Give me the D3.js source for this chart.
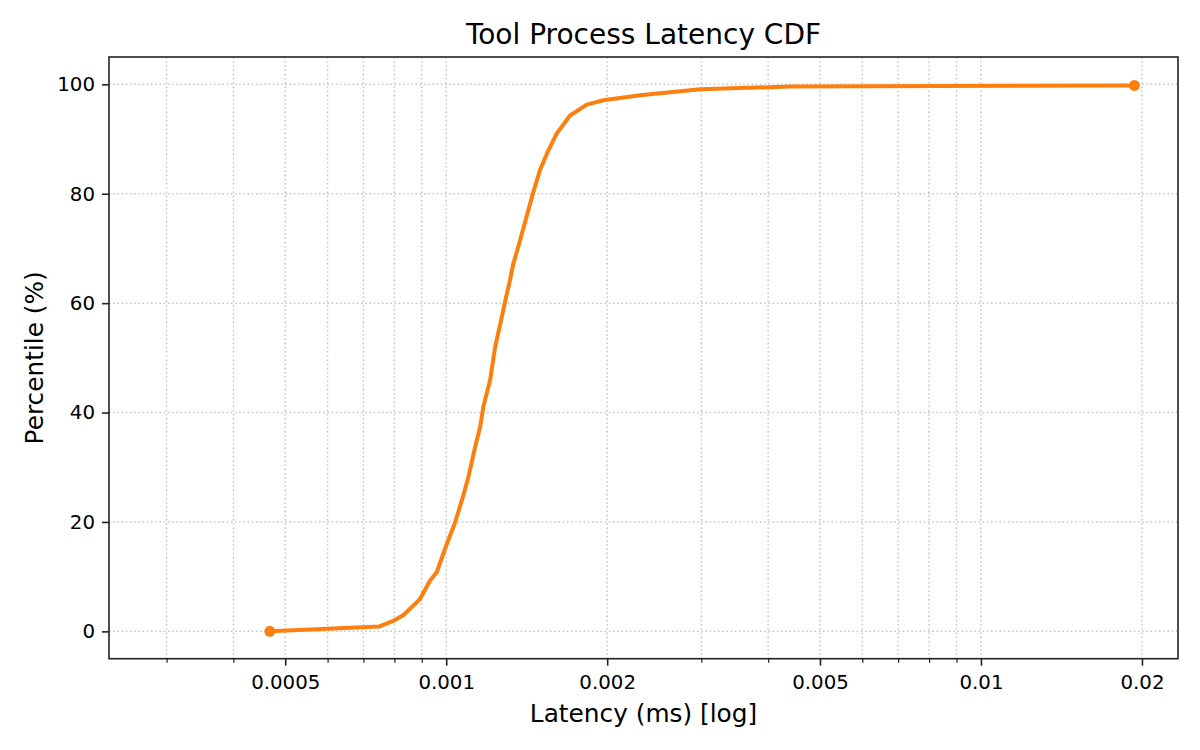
<!DOCTYPE html>
<html>
<head>
<meta charset="utf-8">
<script src="https://cdn.jsdelivr.net/npm/d3@7"></script>
<style>
  body { margin: 0; background: #fff; }
  text { font-family: "DejaVu Sans", sans-serif; fill: #000; }
  .axis path, .axis line { stroke: #222; }
</style>
</head>
<body>
<div id="chart"></div>
<script>
// latency (ms)
var latency = [0.000468, 0.000750, 0.000796, 0.000832, 0.000893, 0.000933, 0.000960, 0.001000,
  0.001039, 0.001076, 0.001100, 0.001132, 0.001157, 0.001173, 0.001208, 0.001234, 0.001270,
  0.001288, 0.001316, 0.001335, 0.001369, 0.001424, 0.001455, 0.001497, 0.001552, 0.001609,
  0.001704, 0.001832, 0.001967, 0.002304, 0.002984, 0.004390, 0.019360];
// percentile (%)
var percentile = [0, 0.9, 1.9, 3.0, 5.9, 9.3, 10.8, 15.7,
  19.9, 24.8, 28.2, 33.6, 37.3, 41.0, 45.9, 51.9, 57.4,
  60.2, 64.2, 67.2, 70.9, 77.0, 80.3, 84.3, 87.9, 91.0,
  94.3, 96.3, 97.1, 98.0, 99.1, 99.6, 99.8];

var xMajor = [0.0005, 0.001, 0.002, 0.005, 0.01, 0.02];
var xMinor = [0.0003, 0.0004, 0.0006, 0.0007, 0.0008, 0.0009,
  0.003, 0.004, 0.006, 0.007, 0.008, 0.009];
var yTicks = [0, 20, 40, 60, 80, 100];

var w = 1200, h = 750;
// plot box (no "top" global: it clashes with window.top)
var plotL = 109, plotR = 1178, plotT = 57, plotB = 658.7;
var lineColor = "#ff7f0e";

var svg = d3.select("#chart").append("svg")
  .attr("width", w)
  .attr("height", h);

//比例尺
var xScale = d3.scaleLog()
  .domain([0.0002341, 0.02336])
  .range([plotL, plotR]);

var yScale = d3.scaleLinear()
  .domain([-5, 105])
  .range([plotB, plotT]);

//网格线
var grid = svg.append("g")
  .attr("stroke", "#c6c6c6")
  .attr("stroke-width", 1.5)
  .attr("stroke-dasharray", "1.6,2.6");

grid.selectAll("line.vx")
  .data(xMajor.concat(xMinor))
  .enter()
  .append("line")
  .attr("x1", function(d) { return xScale(d); })
  .attr("x2", function(d) { return xScale(d); })
  .attr("y1", plotT)
  .attr("y2", plotB);

grid.selectAll("line.hy")
  .data(yTicks)
  .enter()
  .append("line")
  .attr("x1", plotL)
  .attr("x2", plotR)
  .attr("y1", function(d) { return yScale(d); })
  .attr("y2", function(d) { return yScale(d); });

//折线
var line = d3.line()
  .x(function(d, i) { return xScale(latency[i]); })
  .y(function(d) { return yScale(d); });

svg.append("path")
  .attr("d", line(percentile))
  .style("fill", "none")
  .style("stroke", lineColor)
  .style("stroke-width", 4)
  .style("stroke-linejoin", "round")
  .style("stroke-linecap", "round");

//首尾标记点
var ends = [0, percentile.length - 1];
svg.selectAll("circle.end")
  .data(ends)
  .enter()
  .append("circle")
  .attr("cx", function(i) { return xScale(latency[i]); })
  .attr("cy", function(i) { return yScale(percentile[i]); })
  .attr("r", 5.5)
  .attr("fill", lineColor);

//边框
svg.append("rect")
  .attr("x", plotL)
  .attr("y", plotT)
  .attr("width", plotR - plotL)
  .attr("height", plotB - plotT)
  .style("fill", "none")
  .style("stroke", "#222")
  .style("stroke-width", 1.6);

//横轴
var xAxis = d3.axisBottom(xScale)
  .tickValues(xMajor)
  .tickSize(7)
  .tickFormat(function(d) { return String(d); });

var xBar = svg.append("g")
  .attr("class", "axis")
  .attr("transform", "translate(0," + plotB + ")")
  .call(xAxis);
xBar.select(".domain").remove();
xBar.selectAll("line").attr("stroke-width", 1.6);
xBar.selectAll("text")
  .attr("y", 30.3)
  .attr("dy", null)
  .style("font-size", "19.8px");

var xMinorAxis = d3.axisBottom(xScale)
  .tickValues(xMinor)
  .tickSize(4)
  .tickFormat("");
var xMinorBar = svg.append("g")
  .attr("class", "axis")
  .attr("transform", "translate(0," + plotB + ")")
  .call(xMinorAxis);
xMinorBar.select(".domain").remove();
xMinorBar.selectAll("line").attr("stroke-width", 1.2);

//纵轴
var yAxis = d3.axisLeft(yScale)
  .tickValues(yTicks)
  .tickSize(7)
  .tickPadding(7);

var yBar = svg.append("g")
  .attr("class", "axis")
  .attr("transform", "translate(" + plotL + ",0)")
  .call(yAxis);
yBar.select(".domain").remove();
yBar.selectAll("line").attr("stroke-width", 1.6);
yBar.selectAll("text").style("font-size", "19.8px");

//标题和轴标签
svg.append("text")
  .attr("x", (plotL + plotR) / 2)
  .attr("y", 44)
  .attr("text-anchor", "middle")
  .style("font-size", "28px")
  .text("Tool Process Latency CDF");

svg.append("text")
  .attr("x", (plotL + plotR) / 2)
  .attr("y", 721.7)
  .attr("text-anchor", "middle")
  .style("font-size", "24.8px")
  .text("Latency (ms) [log]");

svg.append("text")
  .attr("transform", "translate(42.7," + ((plotT + plotB) / 2) + ") rotate(-90)")
  .attr("text-anchor", "middle")
  .style("font-size", "24.8px")
  .text("Percentile (%)");
</script>
</body>
</html>
